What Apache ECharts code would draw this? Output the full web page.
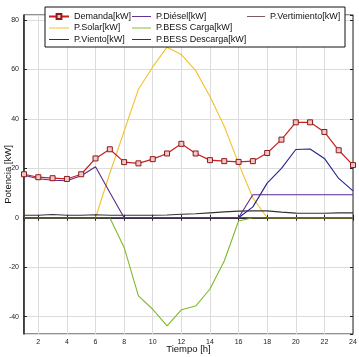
<!DOCTYPE html>
<html><head><meta charset="utf-8">
<script src="https://cdn.jsdelivr.net/npm/echarts@6/dist/echarts.min.js"></script>
<style>html,body{margin:0;padding:0;background:#fff}#c{width:359px;height:357px}</style>
</head><body><div id="c"></div>
<script>
var hours = [1,2,3,4,5,6,7,8,9,10,11,12,13,14,15,16,17,18,19,20,21,22,23,24];
var demanda = [17.6,16.4,16,15.7,17.6,24,27.7,22.5,22,23.7,26,29.9,26,23.3,22.9,22.6,22.9,26.2,31.6,38.6,38.6,34.7,27.3,21.3];
var diesel = [17.2,15.8,15.2,15.0,17.0,20.6,10.2,0,0,0,0,0,0,0,0,0,9.3,9.3,9.3,9.3,9.3,9.3,9.3,9.3];
var vertimiento = [0,0,0,0,0,0,0,0,0,0,0,0,0,0,0,0,0,0,0,0,0,0,0,0];
var solar = [0,0,0,0,0,0,18,35,52,61,69,66,59.5,49,37,22,8,0,0,0,0,0,0,0];
var bessCarga = [0,0,0,0,0,0,0,-12,-31.6,-37,-43.7,-37.2,-35.7,-28.8,-17.5,-1.3,0,0,0,0,0,0,0,0];
var viento = [1.0,1.0,1.3,1.0,1.0,1.2,1.0,1.0,1.0,1.0,1.1,1.4,1.6,2.0,2.4,2.7,2.8,2.8,2.3,1.9,1.8,1.8,2.0,2.0];
var bessDescarga = [0,0,0,0,0,0,0,0,0,0,0,0,0,0,0,0,4.4,14,20,27.6,27.8,24,15.9,10.9];
var names = ['Demanda[kW]','P.Diésel[kW]','P.Vertimiento[kW]','P.Solar[kW]','P.BESS Carga[kW]','P.Viento[kW]','P.BESS Descarga[kW]'];

function pairs(arr){ return hours.map(function(h,i){ return [h, arr[i]]; }); }
var FONT = 'Liberation Sans';
var LINE_ICON = 'path://M0,0H40V2H0Z';
function lineSeries(name, arr, color, z){
  return {name:name, type:'line', data:pairs(arr), symbol:'none', showSymbol:false,
    lineStyle:{color:color, width:1.1}, itemStyle:{color:color}, z:z||2, animation:false};
}
function legendItems(list){
  return list.map(function(n){ return n === names[0] ? {name:n} : {name:n, icon:LINE_ICON}; });
}
var chart = echarts.init(document.getElementById('c'), null, {renderer:'canvas'});
var legendBase = {z:20, top:12, orient:'vertical', padding:0, itemGap:2.5, itemHeight:6,
  symbolKeepAspect:true, textStyle:{fontSize:9, color:'#111', fontFamily:FONT}};
chart.setOption({
  animation:false,
  textStyle:{fontFamily:FONT},
  grid:{left:24, right:6, top:15, bottom:23, outerBoundsMode:'none', containLabel:false,
    show:true, borderColor:'#222', borderWidth:1},
  xAxis:[{type:'value', min:1, max:24, splitNumber:12,
    name:'Tiempo [h]', nameLocation:'middle', nameGap:10, nameMoveOverlap:false,
    nameTextStyle:{fontSize:9.5, color:'#111', fontFamily:FONT},
    axisLine:{show:true, lineStyle:{color:'#222', width:1.5}},
    axisTick:{show:true, inside:true, length:3, lineStyle:{color:'#222'}},
    axisLabel:{fontSize:7, color:'#222', margin:5, showMinLabel:false},
    splitLine:{show:true, lineStyle:{color:'#dcdcdc', width:1}}},
    {type:'value', position:'top', min:1, max:24, splitNumber:12,
    axisLine:{show:true, lineStyle:{color:'#222'}}, axisTick:{show:true, inside:true, length:3, lineStyle:{color:'#222'}},
    axisLabel:{show:false}, splitLine:{show:false}}],
  yAxis:[{type:'value', min:-47, max:82, splitNumber:6,
    name:'Potencia [kW]', nameLocation:'middle', nameGap:11, nameMoveOverlap:false,
    nameTextStyle:{fontSize:9.5, color:'#111', fontFamily:FONT},
    axisLine:{show:true, lineStyle:{color:'#222', width:1.5}},
    axisTick:{show:true, inside:true, length:3, lineStyle:{color:'#222'}},
    axisLabel:{fontSize:7, color:'#222', margin:5, showMinLabel:false, showMaxLabel:false},
    splitLine:{show:true, lineStyle:{color:'#dcdcdc', width:1}}},
    {type:'value', position:'right', min:-47, max:82, splitNumber:6,
    axisLine:{show:true, lineStyle:{color:'#888'}}, axisTick:{show:true, inside:true, length:3, lineStyle:{color:'#222'}},
    axisLabel:{show:false}, splitLine:{show:false}}],
  graphic:[{type:'rect', z:10, shape:{x:45, y:7, width:300, height:40},
    style:{fill:'#fff', stroke:'#111', lineWidth:1}}],
  legend:[
    Object.assign({}, legendBase, {left:48, itemWidth:20, data:legendItems([names[0],names[3],names[5]])}),
    Object.assign({}, legendBase, {left:132, itemWidth:19, data:legendItems([names[1],names[4],names[6]])}),
    Object.assign({}, legendBase, {left:247, itemWidth:18, data:legendItems([names[2]])})
  ],
  series:[
    lineSeries(names[3], solar, '#f2c12e', 2),
    lineSeries(names[4], bessCarga, '#7fba2a', 2),
    lineSeries(names[5], viento, '#333333', 3),
    lineSeries(names[6], bessDescarga, '#23238c', 3),
    lineSeries(names[1], diesel, '#5b2a8c', 3),
    lineSeries(names[2], vertimiento, '#6e4a4a', 4),
    {name:names[0], type:'line', data:pairs(demanda), symbol:'rect', symbolSize:5, showSymbol:true,
     lineStyle:{color:'#c8201f', width:1.2},
     itemStyle:{color:'#f3c6c6', borderColor:'#8b1a1a', borderWidth:1}, z:5, animation:false}
  ]
});
</script></body></html>
